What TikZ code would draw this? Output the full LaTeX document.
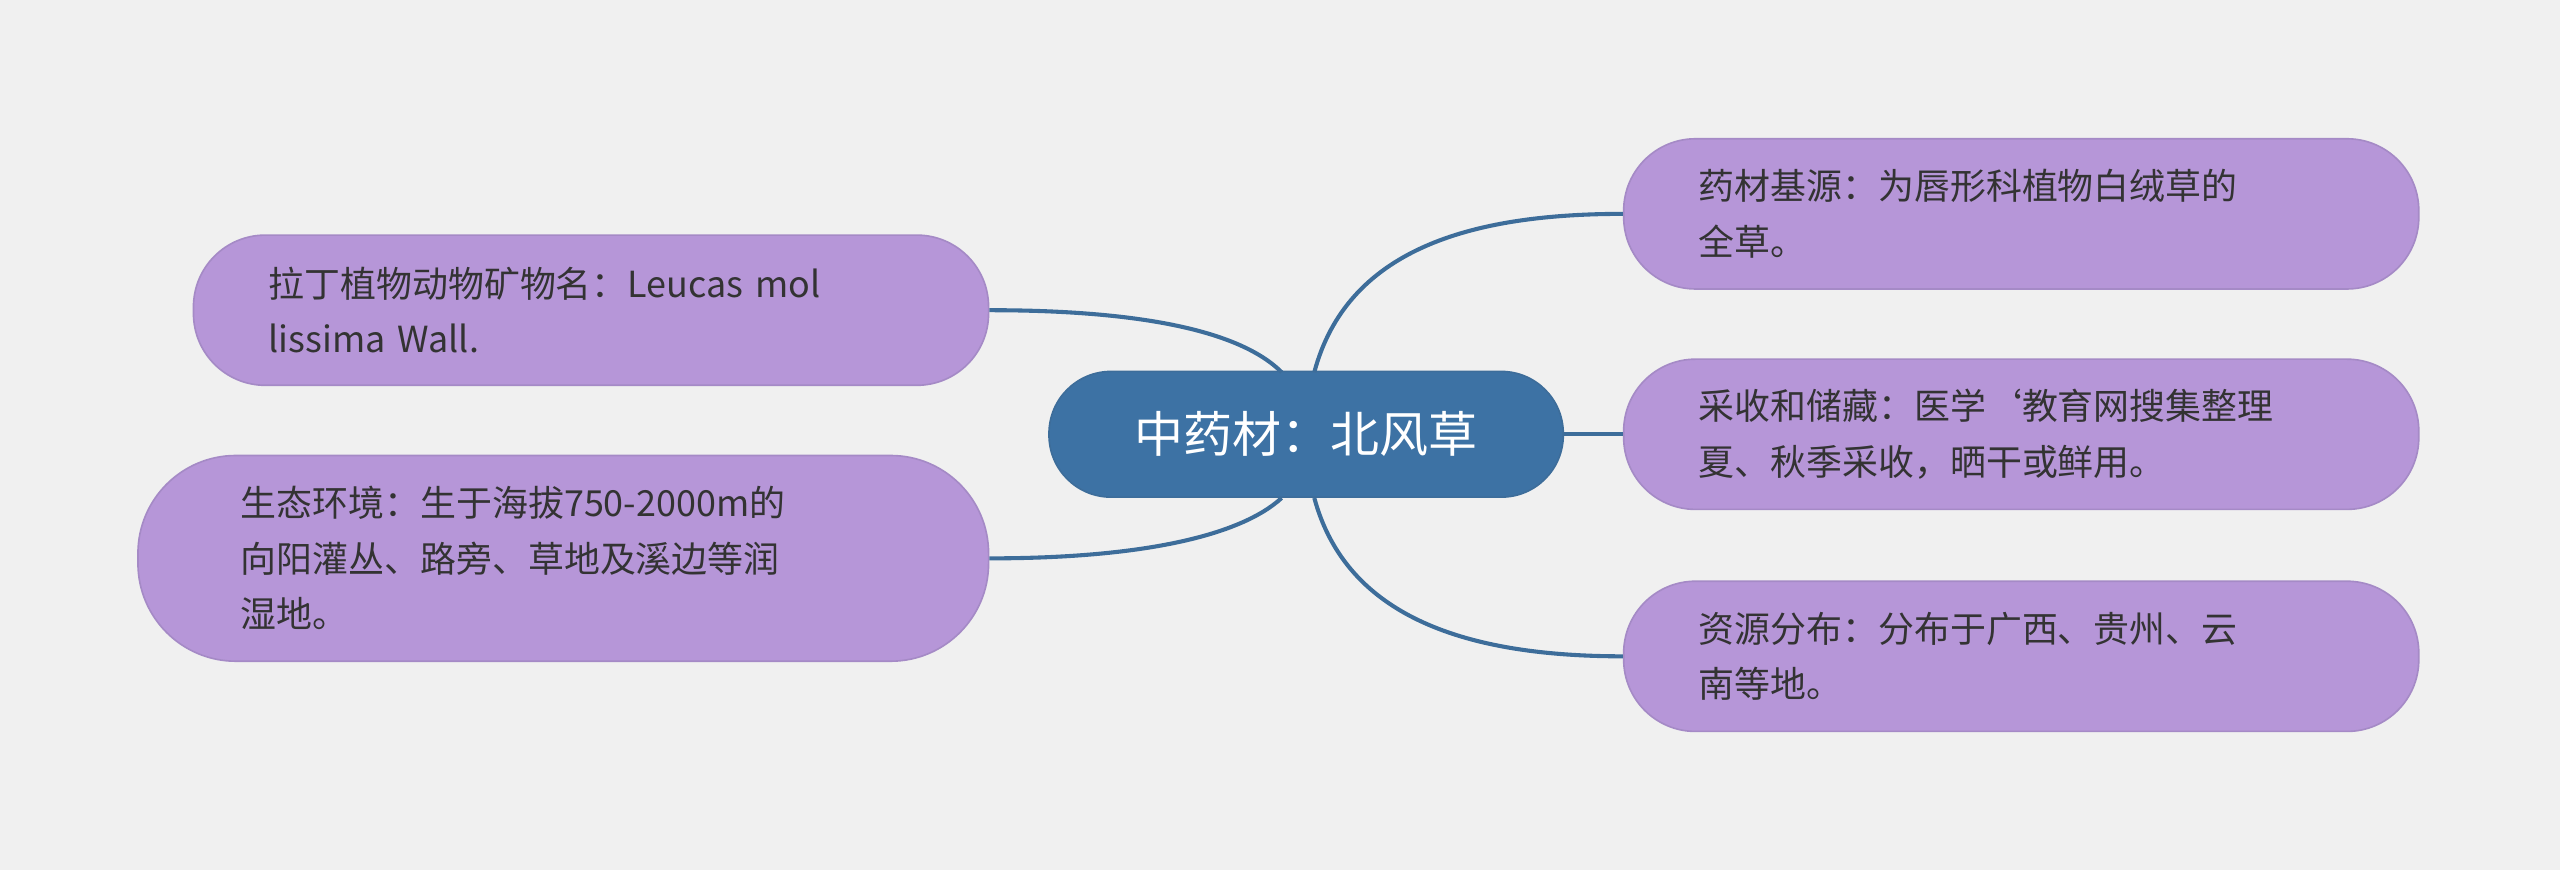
\documentclass[tikz,border=0pt]{standalone}
\usepackage{fontspec}
\setmainfont{Noto Sans CJK SC}
\begin{document}
\begin{tikzpicture}[x=1pt,y=1pt,
  leaf/.style={draw=leafb,line width=1pt,fill=leaff,text=txt,align=left,inner ysep=0pt,
    font=\fontsize{22}{34}\selectfont,rounded corners=44pt},
  conn/.style={draw=linec,line width=2.5pt}]
\definecolor{bg}{HTML}{F0F0F0}
\definecolor{leaff}{HTML}{B696D8}
\definecolor{leafb}{HTML}{A58AC6}
\definecolor{txt}{HTML}{333333}
\definecolor{linec}{HTML}{3D6D9A}
\definecolor{cen}{HTML}{3D72A4}
\fill[bg] (0,0) rectangle (1568,533);
\useasboundingbox (0,0) rectangle (1568,533);
\node[fill=cen,draw=linec,line width=1pt,rounded corners=38pt,minimum width=315pt,minimum height=77pt,text=white,font=\fontsize{30}{36}\selectfont] (c) at (800,267) {中药材：北风草};
\node[leaf,minimum width=487pt,minimum height=92pt,text width=395pt,inner xsep=46pt] (r1) at (1238,402) {药材基源：为唇形科植物白绒草的\\全草。};
\node[leaf,minimum width=487pt,minimum height=92pt,text width=395pt,inner xsep=46pt] (r2) at (1238,267) {采收和储藏：医学`教育网搜集整理\\夏、秋季采收，晒干或鲜用。};
\node[leaf,minimum width=487pt,minimum height=92pt,text width=395pt,inner xsep=46pt] (r3) at (1238,131) {资源分布：分布于广西、贵州、云\\南等地。};
\node[leaf,minimum width=487pt,minimum height=92pt,text width=395pt,inner xsep=46pt] (l1) at (362,343) {拉丁植物动物矿物名：Leucas mol\\lissima Wall.};
\node[leaf,minimum width=521pt,minimum height=126pt,text width=395pt,inner xsep=63pt,rounded corners=60pt] (l2) at (345,191) {生态环境：生于海拔750-2000m的\\向阳灌丛、路旁、草地及溪边等润\\湿地。};
\coordinate (ct) at (805,305);
\coordinate (cb) at (805,228);
\coordinate (ctl) at (785,305);
\coordinate (cbl) at (785,228);
\draw[conn] (ct) .. controls (825,380) and (900,402) .. (r1.west);
\draw[conn] (c.east) -- (r2.west);
\draw[conn] (cb) .. controls (825,154) and (900,131) .. (r3.west);
\draw[conn] (ctl) .. controls (760,330) and (700,343) .. (l1.east);
\draw[conn] (cbl) .. controls (760,205) and (700,191) .. (l2.east);
\end{tikzpicture}
\end{document}
